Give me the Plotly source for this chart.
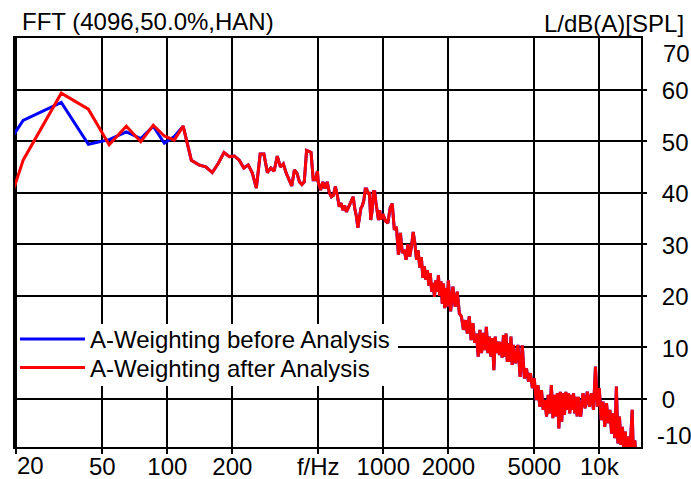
import plotly.graph_objects as go

# ---------------- data ----------------
freq_low = [10.8, 21.5, 32.3, 43.1, 53.8, 64.6, 75.4, 86.1, 96.9, 107.7, 118.4]
level_before_low = [35.0, 54.0, 57.5, 49.4, 50.3, 51.8, 50.5, 52.9, 49.6, 50.9, 52.9]
level_after_low = [8.0, 46.3, 59.3, 56.2, 49.3, 52.9, 49.9, 53.1, 51.0, 50.2, 52.9]

freq_mid = [129.2, 140.0, 150.7, 161.5, 172.3, 183.0, 193.8, 204.6, 215.3, 226.1,
            236.9, 247.6, 258.4, 269.2, 280.0, 290.7, 301.5, 312.3, 323.0, 333.8,
            344.5, 355.3, 366.1, 376.8, 387.6, 398.4, 409.1, 419.9, 430.7, 441.4,
            452.2, 463.0, 473.7, 484.5, 495.3]
level_mid = [46.3, 45.4, 45.0, 43.9, 45.7, 47.8, 47.0, 47.1, 46.3, 44.8,
             45.4, 43.8, 40.9, 47.5, 47.5, 43.9, 44.8, 44.2, 47.1, 45.0,
             45.6, 43.8, 42.5, 41.3, 44.4, 43.8, 42.1, 41.6, 42.1, 48.2,
             48.0, 47.8, 42.5, 42.5, 44.2]

freq_high = [
    500, 512.5, 525, 537.5, 550, 562.5, 575, 587.5, 600, 612.5,
    625, 637.5, 650, 662.5, 675, 687.5, 700, 712.5, 725, 737.5,
    750, 762.5, 775, 787.5, 800, 812.5, 825, 837.5, 850, 862.5,
    875, 887.5, 900, 912.5, 925, 937.5, 950, 962.5, 975, 987.5,
    1000, 1025, 1050, 1075, 1100, 1125, 1150, 1175, 1200, 1225,
    1250, 1275, 1300, 1325, 1350, 1375, 1400, 1425, 1450, 1475,
    1500, 1525, 1550, 1575, 1600, 1625, 1650, 1675, 1700, 1725,
    1750, 1775, 1800, 1825, 1850, 1875, 1900, 1925, 1950, 1975,
    2000, 2050, 2100, 2150, 2200, 2250, 2300, 2350, 2400, 2450,
    2500, 2550, 2600, 2650, 2700, 2750, 2800, 2850, 2900, 2950,
    3000, 3050, 3100, 3150, 3200, 3250, 3300, 3350, 3400, 3450,
    3500, 3550, 3600, 3650, 3700, 3750, 3800, 3850, 3900, 3950,
    4000, 4100, 4200, 4300, 4400, 4500, 4600, 4700, 4800, 4900,
    5000, 5100, 5200, 5300, 5400, 5500, 5600, 5700, 5800, 5900,
    6000, 6100, 6200, 6300, 6400, 6500, 6600, 6700, 6800, 6900,
    7000, 7100, 7200, 7300, 7400, 7500, 7600, 7700, 7800, 7900,
    8000, 8200, 8400, 8600, 8800, 9000, 9200, 9400, 9600, 9800,
    10000, 10200, 10400, 10600, 10800, 11000, 11200, 11400, 11600, 11800,
    12000, 12200, 12400, 12600, 12800, 13000, 13200, 13400, 13600, 13800,
    14000, 14200, 14400, 14600, 14800, 15000, 15200, 15400, 15600]
level_high = [
    42.0, 40.5, 42.1, 40.8, 42.1, 40.0, 39.2, 39.5, 41.2, 39.5,
    37.3, 38.0, 36.6, 37.5, 36.3, 37.0, 37.8, 38.5, 39.2, 37.0,
    35.5, 33.2, 35.0, 37.0, 37.5, 38.5, 40.7, 40.7, 39.9, 39.9,
    34.7, 36.5, 40.2, 40.2, 38.0, 36.6, 34.7, 36.6, 34.8, 35.7,
    35.7, 34.5, 34.1, 37.0, 37.9, 32.8, 33.4, 28.0, 32.2, 28.3,
    28.9, 27.0, 30.0, 27.6, 29.5, 32.4, 30.2, 27.0, 28.8, 25.5,
    27.5, 23.5, 25.7, 23.1, 25.0, 22.0, 24.4, 20.8, 22.5, 19.8,
    23.0, 20.8, 24.0, 20.0, 22.8, 18.5, 22.4, 17.6, 21.5, 17.9,
    23.0, 17.0, 21.8, 17.9, 20.8, 16.6, 16.0, 13.4, 15.3, 12.7,
    16.0, 11.4, 14.7, 10.9, 12.7, 8.2, 13.4, 8.9, 12.8, 9.5,
    14.0, 8.9, 12.1, 8.2, 11.8, 5.6, 12.1, 8.9, 11.1, 8.5,
    11.1, 8.0, 12.4, 8.2, 12.7, 7.2, 10.8, 7.2, 12.1, 6.6,
    10.5, 6.9, 10.5, 4.3, 10.4, 4.0, 5.9, 3.4, 5.0, 2.1,
    4.0, -0.2, 2.7, -1.5, 1.7, -2.1, -0.2, -3.4, 0.8, -2.8,
    2.7, -3.7, 0.8, -3.4, 1.1, -5.7, 1.4, -4.4, 1.1, -3.1,
    1.4, -2.1, 1.1, -2.8, 0.8, -2.1, 1.1, -2.8, 0.4, -3.4,
    0.4, -3.4, 1.1, -1.8, 1.4, -1.5, 1.1, -2.1, 6.3, -1.5,
    2.1, -4.1, -0.5, -5.4, -0.8, -4.7, -2.1, -6.7, -2.8, -7.6,
    2.4, -8.6, -3.4, -8.9, -5.4, -11.0, -6.3, -12.0, -7.3, -12.0,
    -7.6, -2.1, -12.0, -8.0, -12.0, -11.0, -12.0, -12.0, -12.0]

x_tick_vals = [20, 50, 100, 200, 500, 1000, 2000, 5000, 10000]
x_tick_text = ["", "50", "100", "200", "f/Hz", "1000", "2000", "5000", "10k"]
y_tick_vals = [0, 10, 20, 30, 40, 50, 60]
y_tick_text = ["0", "10", "20", "30", "40", "50", "60"]

series_names = ["A-Weighting before Analysis", "A-Weighting after Analysis"]
series_colors = ["#0000ff", "#ff0000"]

FONT = "Liberation Sans, Arial, sans-serif"

# ---------------- figure ----------------
freq_all = freq_low + freq_mid + freq_high
fig = go.Figure()
fig.add_trace(go.Scatter(x=freq_all, y=level_before_low + level_mid + level_high,
                         mode="lines", name=series_names[0], legend="legend",
                         line=dict(color=series_colors[0], width=3)))
fig.add_trace(go.Scatter(x=freq_all, y=level_after_low + level_mid + level_high,
                         mode="lines", name=series_names[1], legend="legend2",
                         line=dict(color=series_colors[1], width=3)))

legend_style = dict(xanchor="left", yanchor="middle", bgcolor="rgba(0,0,0,0)",
                    borderwidth=0, itemwidth=65,
                    font=dict(family=FONT, size=24, color="black"))

fig.update_layout(
    width=691, height=479,
    margin=dict(l=15, r=50, t=38, b=32, autoexpand=False),
    paper_bgcolor="white", plot_bgcolor="white",
    font=dict(family=FONT, size=24, color="black"),
    title=dict(text="FFT (4096,50.0%,HAN)", x=22 / 691, xanchor="left",
               y=1 - 22 / 479, yanchor="middle", yref="container",
               font=dict(family=FONT, size=24, color="black")),
    showlegend=True,
    legend=dict(x=0.0, y=(447 - 339.5) / 409, **legend_style),
    legend2=dict(x=0.0, y=(447 - 368) / 409, **legend_style),
    xaxis=dict(type="log", range=[1.2949, 4.1931], automargin=False,
               tickvals=x_tick_vals, ticktext=x_tick_text,
               showgrid=True, gridcolor="black", gridwidth=2,
               ticks="outside", ticklen=5, tickwidth=2, tickcolor="black",
               showline=True, linecolor="black", linewidth=2, mirror=True,
               zeroline=False, ticklabelstandoff=-8,
               tickfont=dict(family=FONT, size=24)),
    yaxis=dict(range=[-9.31, 70], side="right", automargin=False,
               tickvals=y_tick_vals, ticktext=y_tick_text,
               showgrid=True, gridcolor="black", gridwidth=2,
               ticks="outside", ticklen=4, tickwidth=2, tickcolor="black",
               showline=True, linecolor="black", linewidth=2, mirror=True,
               zeroline=False, ticklabelstandoff=10, ticklabelshift=1,
               tickfont=dict(family=FONT, size=24)),
    shapes=[dict(type="rect", xref="paper", yref="paper",
                 x0=(17 - 15) / 626, x1=(398 - 15) / 626,
                 y0=(447 - 386) / 409, y1=(447 - 324) / 409,
                 fillcolor="white", line=dict(width=0), layer="above")],
)

fig.add_annotation(text="L/dB(A)[SPL]", xref="paper", yref="paper",
                   x=(686 - 15) / 626, y=(447 - 24) / 409,
                   xanchor="right", yanchor="middle", showarrow=False,
                   font=dict(family=FONT, size=24, color="black"))
fig.add_annotation(text="70", xref="paper", yref="y", x=(661 - 15) / 626, y=66.9,
                   xanchor="left", yanchor="middle", showarrow=False,
                   font=dict(family=FONT, size=24, color="black"))
fig.add_annotation(text="-10", xref="paper", yref="y", x=(655 - 15) / 626, y=-7.0,
                   xanchor="left", yanchor="middle", showarrow=False,
                   font=dict(family=FONT, size=24, color="black"))
fig.add_annotation(text="20", xref="x", yref="paper", x=1.2949, y=(447 - 465) / 409,
                   xanchor="left", yanchor="middle", showarrow=False,
                   font=dict(family=FONT, size=24, color="black"))

fig.write_html("out.html")
